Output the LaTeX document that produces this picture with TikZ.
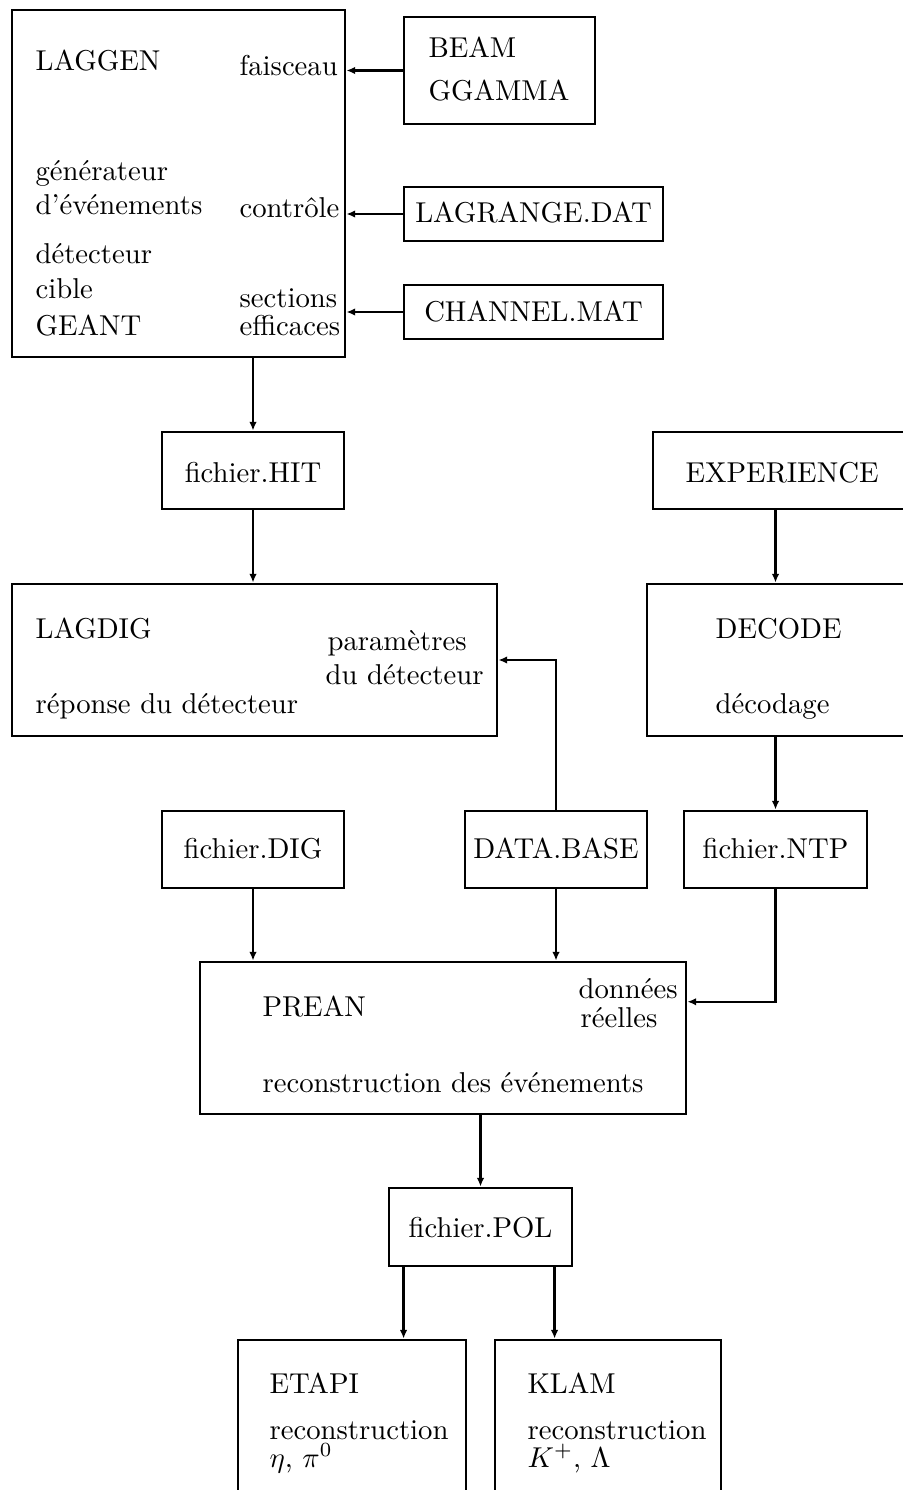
\documentclass[tikz,border=0pt]{standalone}
\usetikzlibrary{fit,calc,arrows.meta}
\begin{document}
\begin{tikzpicture}[x=0.3484pt,y=-0.3484pt,
  box/.style={draw,line width=1pt,inner sep=0pt,rectangle},
  arr/.style={line width=0.8pt,-{Latex[length=3pt,width=2.6pt]}},
  txt/.style={anchor=base west,inner sep=0pt},
  ctxt/.style={anchor=base,inner sep=0pt}]
\useasboundingbox (0,0) rectangle (903,1490);
\clip (0,0) rectangle (903,1490);

% boxes
\node[box,fit={(12,10) (345,357)}] (laggen) {};
\node[box,fit={(404,17) (595,124)}] (beam) {};
\node[box,fit={(404,187) (663,241)}] (lagrange) {};
\node[box,fit={(404,285) (663,339)}] (channel) {};
\node[box,fit={(162,432) (344,509)}] (hit) {};
\node[box,fit={(653,432) (915,509)}] (expe) {};
\node[box,fit={(12,584) (497,736)}] (lagdig) {};
\node[box,fit={(647,584) (915,736)}] (decode) {};
\node[box,fit={(162,811) (344,888)}] (dig) {};
\node[box,fit={(465,811) (647,888)}] (database) {};
\node[box,fit={(684,811) (867,888)}] (ntp) {};
\node[box,fit={(200,962) (686,1114)}] (prean) {};
\node[box,fit={(389,1188) (572,1266)}] (pol) {};
\node[box,fit={(238,1340) (466,1510)}] (etapi) {};
\node[box,fit={(495,1340) (721,1510)}] (klam) {};

% texts
\node[txt] (tlaggen) at (35,71) {LAGGEN};
\node[txt] (tfais) at (239,76) {faisceau};
\node[txt] (tgen1) at (35,181) {générateur};
\node[txt] (tgen2) at (35,215) {d'événements};
\node[txt] (tctrl) at (239,218) {contrôle};
\node[txt] (tdet) at (35,264) {détecteur};
\node[txt] (tcib) at (35,299) {cible};
\node[txt] (tgea) at (35,335) {GEANT};
\node[txt] (tsec) at (239,307) {sections};
\node[txt] (teff) at (239,335) {efficaces};
\node[txt] (tbeam) at (428,58) {BEAM};
\node[txt] (tgg) at (428,101) {GGAMMA};
\node[ctxt] (tlagr) at (533.5,223) {LAGRANGE.DAT};
\node[ctxt] (tchan) at (533.5,322) {CHANNEL.MAT};
\node[ctxt] (thit) at (253,482) {fichier.HIT};
\node[txt] (texp) at (685,482) {EXPERIENCE};
\node[txt] (tlagdig) at (35,638) {LAGDIG};
\node[txt] (tpar1) at (327,650) {paramètres};
\node[txt] (tpar2) at (325,684) {du détecteur};
\node[txt] (trep) at (35,713) {réponse du détecteur};
\node[txt] (tdec) at (715,638) {DECODE};
\node[txt] (tdecg) at (715,713) {décodage};
\node[ctxt] (tdig) at (253,858) {fichier.DIG};
\node[ctxt] (tdb) at (556,858) {DATA.BASE};
\node[ctxt] (tntp) at (775.5,858) {fichier.NTP};
\node[txt] (tprean) at (262,1016) {PREAN};
\node[txt] (tdon) at (578,998) {données};
\node[txt] (treel) at (580,1027) {réelles};
\node[txt] (treco) at (262,1092) {reconstruction des événements};
\node[ctxt] (tpol) at (480.5,1237) {fichier.POL};
\node[txt] (tetapi) at (269,1393) {ETAPI};
\node[txt] (treco1) at (269,1439) {reconstruction};
\node[txt] (teta) at (269,1467) {$\eta$, $\pi^0$};
\node[txt] (tklam) at (527,1393) {KLAM};
\node[txt] (treco2) at (527,1439) {reconstruction};
\node[txt] (tkl) at (527,1467) {$K^+$, $\Lambda$};

% connectors
\draw[arr] (beam.west) -- (beam.west -| laggen.east);
\draw[arr] (lagrange.west) -- (lagrange.west -| laggen.east);
\draw[arr] (channel.west) -- (channel.west -| laggen.east);
\draw[arr] (laggen.south -| hit.north) -- (hit.north);
\draw[arr] (hit.south) -- (lagdig.north -| hit.south);
\draw[arr] (database.north) |- (lagdig.east);
\draw[arr] (expe.south -| ntp.north) -- (decode.north -| ntp.north);
\draw[arr] (decode.south -| ntp.north) -- (ntp.north);
\draw[arr] (dig.south) -- (prean.north -| dig.south);
\draw[arr] (database.south) -- (prean.north -| database.south);
\coordinate (nin) at (prean.east |- tdon.south);
\draw[arr] (ntp.south) |- ([yshift=-1pt]nin);
\draw[arr] (prean.south -| pol.north) -- (pol.north);
\path (pol.south west) ++(16,0) coordinate (pa);
\path (pol.south west) ++(167,0) coordinate (pb);
\draw[arr] (pa) -- (pa |- etapi.north);
\draw[arr] (pb) -- (pb |- klam.north);
\end{tikzpicture}
\end{document}
